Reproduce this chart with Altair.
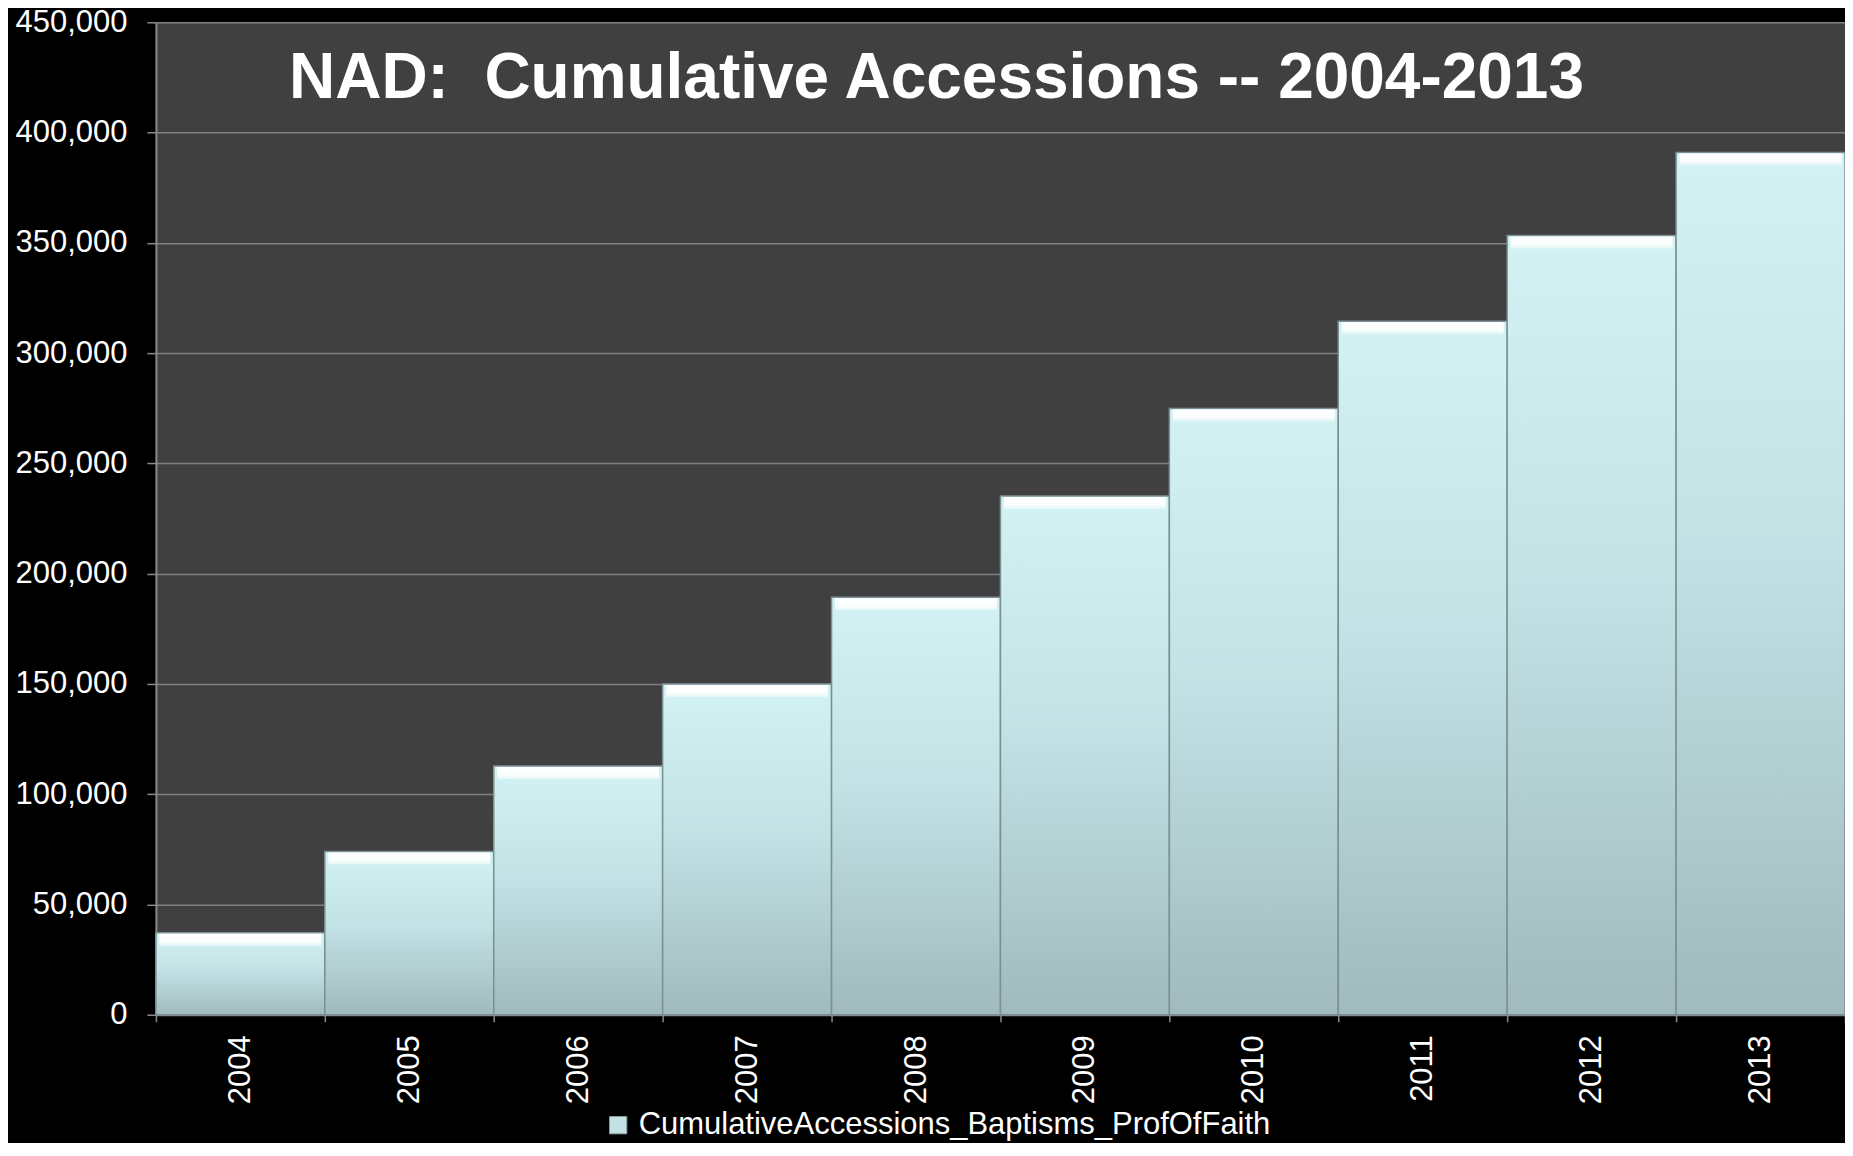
import altair as alt
import pandas as pd

years = ["2004", "2005", "2006", "2007", "2008", "2009", "2010", "2011", "2012", "2013"]
values = [37200, 74000, 112800, 150000, 189300, 235200, 274900, 314500, 353300, 391000]
series_name = "CumulativeAccessions_Baptisms_ProfOfFaith"
title_text = "NAD:\u00a0 Cumulative Accessions -- 2004-2013"
y_ticks = [0, 50000, 100000, 150000, 200000, 250000, 300000, 350000, 400000, 450000]

df = pd.DataFrame({"year": years, "value": values, "series": [series_name] * len(years)})
tdf = pd.DataFrame({"t": [title_text]})

FONT = "Liberation Sans"

x_enc = alt.X(
    "year:N",
    sort=years,
    scale=alt.Scale(paddingInner=0, paddingOuter=0),
    axis=alt.Axis(
        title=None,
        labelAngle=-90,
        labelFontSize=31,
        labelColor="white",
        labelFont=FONT,
        labelPadding=13,
        tickBand="extent",
        tickColor="#8a8a8a",
        tickWidth=1.5,
        tickSize=7,
        domainColor="#8a8a8a",
        domainWidth=2,
        grid=False,
    ),
)
y_enc = alt.Y(
    "value:Q",
    scale=alt.Scale(domain=[0, 450000], nice=False),
    axis=alt.Axis(
        title=None,
        values=y_ticks,
        labelExpr="format(datum.value, ',')",
        labelFontSize=31,
        labelColor="white",
        labelFont=FONT,
        labelPadding=20,
        tickColor="#8a8a8a",
        tickWidth=1.5,
        tickSize=9,
        domainColor="#8a8a8a",
        domainWidth=2,
        grid=True,
        gridColor="#808080",
        gridWidth=1.5,
    ),
)

base = alt.Chart(df)

legend_layer = base.mark_bar().encode(
    x=x_enc,
    y=y_enc,
    color=alt.Color(
        "series:N",
        scale=alt.Scale(range=["#c4e2e5"]),
        legend=alt.Legend(
            title=None,
            orient="none",
            legendX=447,
            legendY=1088,
            symbolType="square",
            symbolSize=300,
            symbolStrokeColor="#8a9a9c",
            symbolStrokeWidth=1,
            labelFontSize=31,
            labelColor="white",
            labelFont=FONT,
            labelOffset=5,
            labelLimit=2000,
        ),
    ),
)

bar_grad = alt.LinearGradient(
    gradient="linear",
    stops=[
        alt.GradientStop(color="#d3f2f4", offset=0),
        alt.GradientStop(color="#c2e2e5", offset=0.45),
        alt.GradientStop(color="#a0babd", offset=1),
    ],
    x1=0, x2=0, y1=0, y2=1,
)
bars = base.mark_bar(color=bar_grad, stroke="#7d8f92", strokeWidth=1.5).encode(x=x_enc, y=y_enc)

bevel_grad = alt.LinearGradient(
    gradient="linear",
    stops=[
        alt.GradientStop(color="#ffffff", offset=0),
        alt.GradientStop(color="#fbfefe", offset=0.65),
        alt.GradientStop(color="#e2f6f7", offset=1),
    ],
    x1=0, x2=0, y1=0, y2=1,
)
bevel = base.mark_tick(color=bevel_grad, thickness=12, size=162, yOffset=7, opacity=1).encode(
    x=x_enc, y=y_enc
)

title_layer = alt.Chart(tdf).mark_text(
    font=FONT, fontSize=64, fontWeight="bold", color="white", align="center", baseline="alphabetic"
).encode(text="t:N", x=alt.value(781), y=alt.value(76))

chart = (
    alt.layer(legend_layer, bars, bevel, title_layer)
    .properties(
        width=1690,
        height=993,
        background="black",
        padding={"left": 148, "top": 14, "right": 0, "bottom": 128},
        autosize=alt.AutoSizeParams(type="none"),
    )
    .configure_view(fill="#404040", strokeWidth=0)
)

chart.save("out.html", embed_options={"renderer": "svg", "actions": False})
